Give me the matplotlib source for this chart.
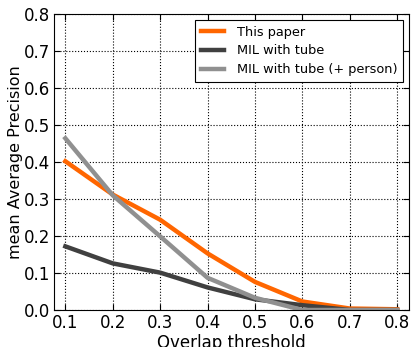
import matplotlib
matplotlib.use("Agg")
import matplotlib.pyplot as plt

# overlap thresholds and mAP for each method
thresholds = [0.1, 0.2, 0.3, 0.4, 0.5, 0.6, 0.7, 0.8]
this_paper = [0.402, 0.312, 0.244, 0.153, 0.076, 0.023, 0.004, 0.002]
mil_tube = [0.172, 0.126, 0.101, 0.061, 0.029, 0.013, 0.0, 0.0]
mil_tube_person = [0.464, 0.310, 0.199, 0.087, 0.033, 0.0, 0.0, 0.0]

plt.rcParams['font.family'] = ['DejaVu Sans']

fig = plt.figure(figsize=(4.11, 3.47), dpi=100)
ax = fig.add_axes([53.5 / 411, 1 - 310 / 347, (409 - 53.5) / 411, (310 - 14) / 347])

ax.plot(thresholds, this_paper, color='#ff6600', lw=3.2, label='This paper')
ax.plot(thresholds, mil_tube, color='#404040', lw=3.2, label='MIL with tube')
ax.plot(thresholds, mil_tube_person, color='#909090', lw=3.2, label='MIL with tube (+ person)')

ax.set_xlim(0.075, 0.825)
ax.set_ylim(0.0, 0.8)
ax.set_xticks(thresholds)
ax.set_yticks([0.0, 0.1, 0.2, 0.3, 0.4, 0.5, 0.6, 0.7, 0.8])
ax.tick_params(direction='in', top=True, right=True, labelsize=12, length=4)
ax.tick_params(axis='y', pad=2.5)
ax.tick_params(axis='x', pad=3)
ax.grid(True, color='black', linestyle=':', linewidth=0.8)
ax.set_xlabel('Overlap threshold', fontsize=12, labelpad=1)
ax.set_ylabel('mean Average Precision', fontsize=11.5, labelpad=0.5)

leg = ax.legend(loc='upper right', fontsize=9.3, fancybox=False, framealpha=1,
                edgecolor='black', handlelength=1.8, handletextpad=1.0,
                labelspacing=0.45, borderpad=0.45, borderaxespad=0.45)
leg.get_frame().set_linewidth(0.8)

fig.savefig('out.png', dpi=100)
